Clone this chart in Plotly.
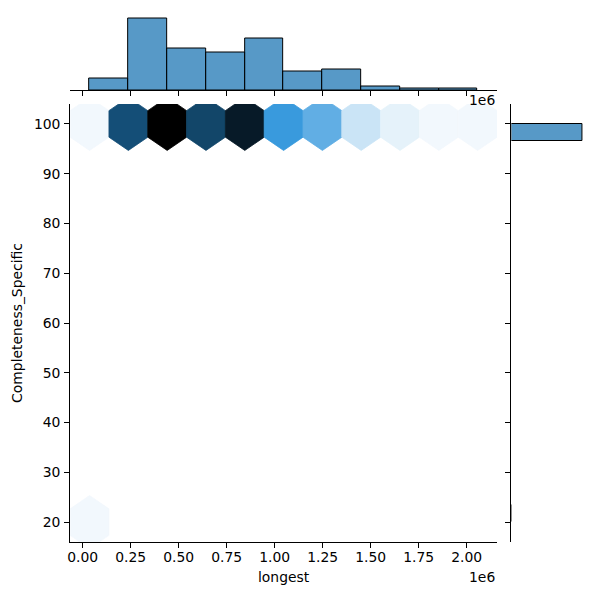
import colorsys
import numpy as np
import plotly.graph_objects as go

# ---------------- data ----------------
x_min, x_max = 0.036e6, 2.057e6          # extent of "longest"
y_min, y_max = 20.0, 100.0               # extent of "Completeness_Specific"

# marginal histogram of "longest" (10 bins between x_min and x_max)
x_hist_counts = [7, 42, 24, 22, 30, 11, 12, 2, 1, 1]

# marginal histogram of "Completeness_Specific" (23 bins between y_min and y_max)
y_hist_counts = [1] + [0] * 21 + [151]

# hexbin cells: centre column index, centre row index (lattice 1), count
hex_col = [0, 1, 2, 3, 4, 5, 6, 7, 8, 9, 10, 0]
hex_row = [5, 5, 5, 5, 5, 5, 5, 5, 5, 5, 5, 0]
hex_count = [1, 24, 33, 25, 30, 15, 12, 4, 2, 1, 1, 1]
gridsize_x, gridsize_y = 10, 5

x_tick_vals = [0, 250000, 500000, 750000, 1000000, 1250000, 1500000, 1750000, 2000000]
x_tick_text = ["0.00", "0.25", "0.50", "0.75", "1.00", "1.25", "1.50", "1.75", "2.00"]
y_tick_vals = [20, 30, 40, 50, 60, 70, 80, 90, 100]

x_label = "longest"
y_label = "Completeness_Specific"
offset_text = "1e6"

# ---------------- styling helpers ----------------
base_rgb = (31 / 255, 119 / 255, 180 / 255)
h_, l_, s_ = colorsys.rgb_to_hls(*base_rgb)
stops = [colorsys.hls_to_rgb(h_, l, s_) for l in np.linspace(1, 0, 12)]


def cmap(f):
    f = min(max(f, 0.0), 1.0)
    pos = f * (len(stops) - 1)
    i = min(int(pos), len(stops) - 2)
    t = pos - i
    c = [(1 - t) * a + t * b for a, b in zip(stops[i], stops[i + 1])]
    return "rgb(%d,%d,%d)" % tuple(int(round(v * 255)) for v in c)


FONT = "DejaVu Sans"
FS = 13.9
hist_fill = "rgba(31,119,180,0.75)"

fig = go.Figure()

# ---------------- hexbin (main) ----------------
sx = (x_max - x_min) / gridsize_x
sy = (y_max - y_min) / gridsize_y
unit = np.array([[.5, -.5], [.5, .5], [0., 1.], [-.5, .5], [-.5, -.5], [0., -1.], [.5, -.5]])
vmax = max(hex_count)
for ci, ri, cnt in zip(hex_col, hex_row, hex_count):
    cx = x_min + ci * sx
    cy = y_min + ri * sy
    xs = cx + unit[:, 0] * sx
    ys = cy + unit[:, 1] * sy / 3
    col = cmap(cnt / vmax)
    fig.add_trace(go.Scatter(x=xs, y=ys, mode="lines", fill="toself", fillcolor=col,
                             line=dict(color=col, width=0.8), hoverinfo="skip",
                             showlegend=False, xaxis="x", yaxis="y"))

# ---------------- top marginal histogram ----------------
x_edges = np.linspace(x_min, x_max, len(x_hist_counts) + 1)
fig.add_trace(go.Bar(x=(x_edges[:-1] + x_edges[1:]) / 2, y=x_hist_counts,
                     width=np.diff(x_edges), marker=dict(color=hist_fill, line=dict(color="black", width=1)),
                     showlegend=False, xaxis="x2", yaxis="y2"))

# ---------------- right marginal histogram ----------------
y_edges = np.linspace(y_min, y_max, len(y_hist_counts) + 1)
yc = (y_edges[:-1] + y_edges[1:]) / 2
yw = np.diff(y_edges)
nz = [i for i, c in enumerate(y_hist_counts) if c > 0]
fig.add_trace(go.Bar(y=yc[nz], x=[y_hist_counts[i] for i in nz], width=yw[nz], orientation="h",
                     marker=dict(color=hist_fill, line=dict(color="black", width=1)),
                     showlegend=False, xaxis="x3", yaxis="y3"))

xr = [x_min - 0.05 * (x_max - x_min), x_max + 0.05 * (x_max - x_min)]
yr = [y_min - 0.05 * (y_max - y_min), y_max + 0.05 * (y_max - y_min)]

W = H = 600.0
main_x = [67.5 / W, 496.5 / W]
main_y = [(H - 542) / H, (H - 104) / H]
top_y = [(H - 90) / H, (H - 14.5) / H]
right_x = [511 / W, 585.5 / W]

tick_common = dict(ticks="outside", ticklen=4.9, tickwidth=1.1, tickcolor="black",
                   showline=True, linecolor="black", linewidth=1.1, showgrid=False, zeroline=False,
                   tickfont=dict(family=FONT, size=FS, color="black"))

fig.update_layout(
    width=600, height=600, margin=dict(l=0, r=0, t=0, b=0),
    plot_bgcolor="white", paper_bgcolor="white", bargap=0,
    font=dict(family=FONT, size=FS, color="black"),
    xaxis=dict(domain=main_x, range=xr, anchor="y", tickvals=x_tick_vals, ticktext=x_tick_text,
               title=dict(text=x_label, standoff=8, font=dict(family=FONT, size=FS)),
               ticklabelstandoff=-3, **tick_common),
    yaxis=dict(domain=main_y, range=yr, anchor="x", tickvals=y_tick_vals,
               title=dict(text=y_label, standoff=8, font=dict(family=FONT, size=FS)),
               ticklabelstandoff=1, **tick_common),
    xaxis2=dict(domain=main_x, range=xr, anchor="y2", matches="x", tickvals=x_tick_vals,
                showticklabels=False, **tick_common),
    yaxis2=dict(domain=top_y, range=[0, max(x_hist_counts) * 1.05], anchor="x2", visible=False),
    xaxis3=dict(domain=right_x, range=[0, max(y_hist_counts) * 1.05], anchor="y3", visible=False),
    yaxis3=dict(domain=main_y, range=yr, anchor="x3", matches="y", tickvals=y_tick_vals,
                showticklabels=False, **tick_common),
    annotations=[
        dict(text=offset_text, xref="paper", yref="paper", x=main_x[1], y=(H - 100) / H,
             xanchor="right", yanchor="middle", showarrow=False, font=dict(family=FONT, size=FS)),
        dict(text=offset_text, xref="paper", yref="paper", x=main_x[1], y=(H - 577) / H,
             xanchor="right", yanchor="middle", showarrow=False, font=dict(family=FONT, size=FS)),
    ],
)

fig.write_html("out.html")
